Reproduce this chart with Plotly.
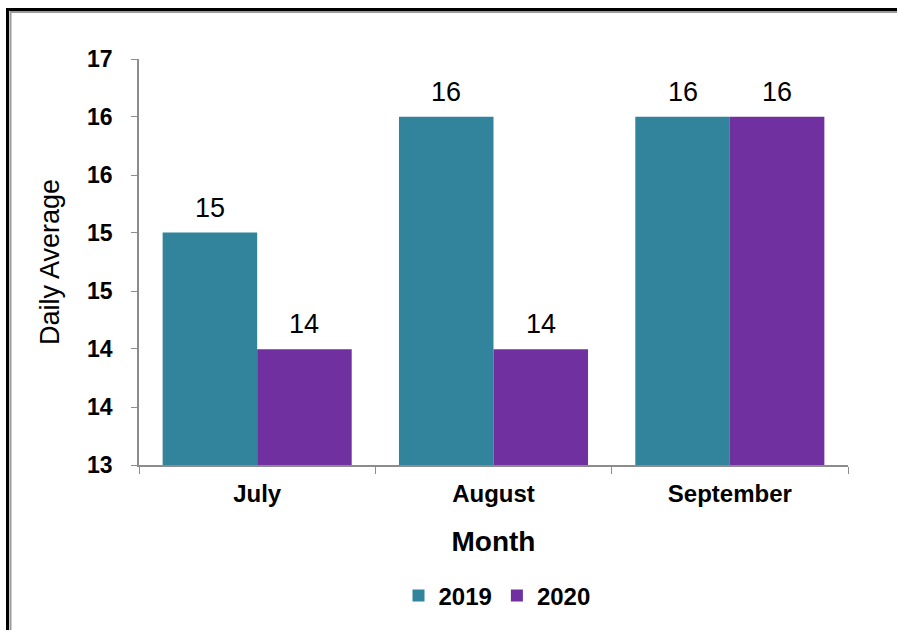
import plotly.graph_objects as go

months = ["July", "August", "September"]
series_names = ["2019", "2020"]
values_2019 = [15.29, 16.43, 16.43]
values_2020 = [14.14, 14.14, 16.43]
tick_values = [13.0, 13.571, 14.143, 14.714, 15.286, 15.857, 16.429, 17.0]
tick_labels = ["13", "14", "14", "15", "15", "16", "16", "17"]

colors = ["#31849B", "#7030A0"]
FONT = "Liberation Sans, Arial, sans-serif"

W, H = 897, 630
L, R, T, B = 139, 49, 59, 165
PW, PH = W - L - R, H - T - B

def px_x(px):
    return (px - L) / PW

def px_y(py):
    return (H - B - py) / PH

fig = go.Figure()
for name, vals, col in zip(series_names, [values_2019, values_2020], colors):
    fig.add_trace(go.Bar(x=months, y=vals, name=name, marker=dict(color=col, line=dict(width=0))))

# data labels
cat_w = PW / 3
offset = cat_w * 0.8 / 4
for i, (name, vals) in enumerate(zip(series_names, [values_2019, values_2020])):
    for m, v in zip(months, vals):
        fig.add_annotation(x=m, y=v, xref="x", yref="y", text=f"{v:.0f}", showarrow=False,
                           xshift=(-offset if i == 0 else offset), yshift=8, yanchor="bottom",
                           font=dict(family=FONT, size=27, color="black"))

fig.update_layout(
    width=W, height=H,
    margin=dict(l=L, r=R, t=T, b=B, autoexpand=False),
    paper_bgcolor="white", plot_bgcolor="white",
    barmode="group", bargap=0.2, bargroupgap=0,
    font=dict(family=FONT, color="black"),
    showlegend=True,
    legend=dict(orientation="h", x=px_x(497), xanchor="center", y=px_y(596), yanchor="middle",
                font=dict(family=FONT, size=24, color="black", weight="bold"),
                itemwidth=30, bgcolor="rgba(0,0,0,0)"),
)
fig.update_xaxes(
    showline=True, linecolor="#8C8C8C", linewidth=1.5, mirror=False,
    ticks="outside", tickson="boundaries", ticklen=7, tickcolor="#8C8C8C",
    ticklabelstandoff=6,
    showgrid=False, automargin=False,
    tickfont=dict(family=FONT, size=24, color="black", weight="bold"),
    title=dict(text="Month", font=dict(family=FONT, size=28, color="black", weight="bold"), standoff=26),
)
fig.update_yaxes(
    range=[13, 17], tickvals=tick_values, ticktext=tick_labels,
    showline=True, linecolor="#8C8C8C", linewidth=1.5,
    ticks="outside", ticklen=6, tickcolor="#8C8C8C", ticklabelstandoff=14,
    showgrid=False, zeroline=False, automargin=False,
    tickfont=dict(family=FONT, size=23, color="black", weight="bold"),
    title=dict(text="Daily Average", font=dict(family=FONT, size=27, color="black"), standoff=20),
)

# chart border
fig.add_shape(type="rect", xref="paper", yref="paper",
              x0=px_x(7.5), x1=px_x(915), y0=px_y(640), y1=px_y(9.5),
              line=dict(color="black", width=3), layer="above")
fig.add_shape(type="rect", xref="paper", yref="paper",
              x0=px_x(10.5), x1=px_x(915), y0=px_y(640), y1=px_y(12),
              line=dict(color="#9A9A9A", width=2), layer="above")

fig.write_html("out.html", config={"displayModeBar": False},
               post_script="document.body.style.margin='0';document.body.style.overflow='hidden';")
